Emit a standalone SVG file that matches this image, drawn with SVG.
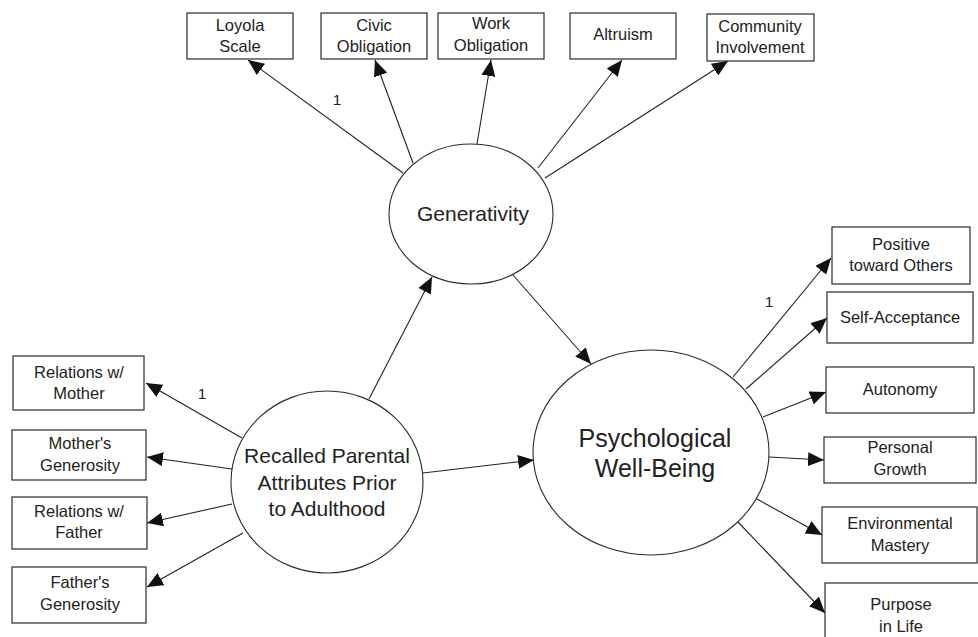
<svg xmlns="http://www.w3.org/2000/svg" width="978" height="637" viewBox="0 0 978 637">
<style>
.box{fill:#fff;stroke:#2a2a2a;stroke-width:1.2}
.lat{fill:#fff;stroke:#2a2a2a;stroke-width:1.1}
.t{font-family:"Liberation Sans",Arial,sans-serif;font-size:16.5px;fill:#222;text-anchor:middle}
.tl{font-family:"Liberation Sans",Arial,sans-serif;font-size:21px;fill:#222;text-anchor:middle}
.tx{font-family:"Liberation Sans",Arial,sans-serif;font-size:25px;fill:#222;text-anchor:middle}
.one{font-family:"Liberation Sans",Arial,sans-serif;font-size:15.5px;fill:#222;text-anchor:middle}
.c{stroke:#222;stroke-width:1.1;fill:none;marker-end:url(#ah)}
</style>
<defs>
<marker id="ah" markerUnits="userSpaceOnUse" markerWidth="16" markerHeight="14" viewBox="0 0 16 14" refX="16" refY="7" orient="auto">
<path d="M0,0 L16,7 L0,14 z" fill="#111"/>
</marker>
</defs>
<rect width="978" height="637" fill="#fff"/>
<g id="connectors">
<line class="c" x1="403" y1="173" x2="248" y2="60"/>
<line class="c" x1="413" y1="163" x2="375" y2="60"/>
<line class="c" x1="477" y1="144" x2="491" y2="60"/>
<line class="c" x1="538" y1="168" x2="622" y2="60"/>
<line class="c" x1="545" y1="178" x2="728" y2="61"/>
<line class="c" x1="242" y1="438" x2="146" y2="383"/>
<line class="c" x1="232" y1="469" x2="147" y2="457"/>
<line class="c" x1="232" y1="504" x2="147" y2="523"/>
<line class="c" x1="243" y1="533" x2="147" y2="587"/>
<line class="c" x1="369" y1="399" x2="432" y2="277"/>
<line class="c" x1="423" y1="473" x2="534" y2="460"/>
<line class="c" x1="513" y1="275" x2="591" y2="364"/>
<line class="c" x1="733" y1="377" x2="831" y2="258"/>
<line class="c" x1="746" y1="389" x2="827" y2="318"/>
<line class="c" x1="763" y1="417" x2="826" y2="392"/>
<line class="c" x1="769" y1="457" x2="824" y2="460"/>
<line class="c" x1="757" y1="499" x2="822" y2="535"/>
<line class="c" x1="738" y1="522" x2="825" y2="613"/>
<text class="one" x="337" y="105">1</text>
<text class="one" x="202" y="399">1</text>
<text class="one" x="769" y="307">1</text>
</g>
<g id="generativity">
<ellipse class="lat" cx="471" cy="214" rx="82" ry="70"/>
<text class="tl" x="473" y="221">Generativity</text>
</g>
<g id="recalled">
<ellipse class="lat" cx="327" cy="482" rx="96" ry="91"/>
<text class="tl" x="327" y="463">Recalled Parental</text>
<text class="tl" x="327" y="490">Attributes Prior</text>
<text class="tl" x="327" y="516">to Adulthood</text>
</g>
<g id="pwb">
<ellipse class="lat" cx="651" cy="452.5" rx="118" ry="102.5"/>
<text class="tx" x="655" y="447">Psychological</text>
<text class="tx" x="655" y="477">Well-Being</text>
</g>
<g id="loyola">
<rect class="box" x="187" y="13" width="106" height="46"/>
<text class="t" x="240" y="31">Loyola</text>
<text class="t" x="240" y="52">Scale</text>
</g>
<g id="civic">
<rect class="box" x="321" y="13" width="106" height="46"/>
<text class="t" x="374" y="31">Civic</text>
<text class="t" x="374" y="52">Obligation</text>
</g>
<g id="work">
<rect class="box" x="438" y="13" width="106" height="46"/>
<text class="t" x="491" y="29">Work</text>
<text class="t" x="491" y="51">Obligation</text>
</g>
<g id="altruism">
<rect class="box" x="570" y="13" width="106" height="46"/>
<text class="t" x="623" y="40">Altruism</text>
</g>
<g id="community">
<rect class="box" x="707" y="14" width="107" height="47"/>
<text class="t" x="760" y="32">Community</text>
<text class="t" x="760" y="53">Involvement</text>
</g>
<g id="rel-mother">
<rect class="box" x="13" y="356" width="131" height="54"/>
<text class="t" x="79" y="378">Relations w/</text>
<text class="t" x="79" y="399">Mother</text>
</g>
<g id="mother-gen">
<rect class="box" x="12" y="430" width="134" height="50"/>
<text class="t" x="80" y="449">Mother's</text>
<text class="t" x="80" y="471">Generosity</text>
</g>
<g id="rel-father">
<rect class="box" x="12" y="497" width="135" height="52"/>
<text class="t" x="79" y="517">Relations w/</text>
<text class="t" x="79" y="538">Father</text>
</g>
<g id="father-gen">
<rect class="box" x="12" y="567" width="134" height="56"/>
<text class="t" x="80" y="588">Father's</text>
<text class="t" x="80" y="610">Generosity</text>
</g>
<g id="positive">
<rect class="box" x="832" y="227" width="138" height="57"/>
<text class="t" x="901" y="250">Positive</text>
<text class="t" x="901" y="271">toward Others</text>
</g>
<g id="self-acceptance">
<rect class="box" x="827" y="292" width="146" height="51"/>
<text class="t" x="900" y="323">Self-Acceptance</text>
</g>
<g id="autonomy">
<rect class="box" x="826" y="367" width="148" height="46"/>
<text class="t" x="900" y="395">Autonomy</text>
</g>
<g id="personal-growth">
<rect class="box" x="824" y="437" width="152" height="46"/>
<text class="t" x="900" y="453">Personal</text>
<text class="t" x="900" y="475">Growth</text>
</g>
<g id="environmental">
<rect class="box" x="822" y="507" width="155" height="56"/>
<text class="t" x="900" y="529">Environmental</text>
<text class="t" x="900" y="551">Mastery</text>
</g>
<g id="purpose">
<rect class="box" x="825" y="583" width="160" height="70"/>
<text class="t" x="901" y="610">Purpose</text>
<text class="t" x="901" y="632">in Life</text>
</g>
</svg>
